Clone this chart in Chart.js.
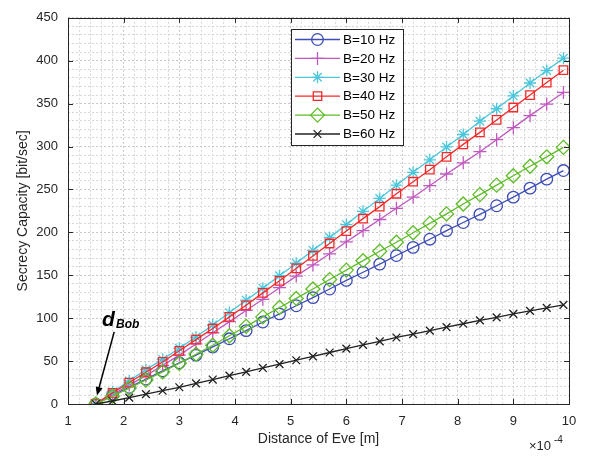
<!DOCTYPE html>
<html>
<head>
<meta charset="utf-8">
<title>Secrecy Capacity vs Distance of Eve</title>
<script src="https://cdn.jsdelivr.net/npm/chart.js@4.4.1/dist/chart.umd.min.js"></script>
<style>
    html, body { margin: 0; padding: 0; background: #fff; }
    #chart { display: block; }
</style>
</head>
<body>
<canvas id="chart" width="590" height="456"></canvas>
<script>
// distance of Eve, in units of 1e-4 m
const distances = [1.5, 1.8, 2.1, 2.4, 2.7, 3.0, 3.3, 3.6, 3.9, 4.2, 4.5, 4.8, 5.1, 5.4, 5.7,
    6.0, 6.3, 6.6, 6.9, 7.2, 7.5, 7.8, 8.1, 8.4, 8.7, 9.0, 9.3, 9.6, 9.9];

// secrecy capacity [bit/sec] for each bandwidth
const capB10 = [0, 10, 19.5, 29, 38.5, 48, 57, 66.5, 76, 85.5, 95.5, 105, 114.5, 124, 134,
    144, 153.5, 163, 173, 182.5, 192, 202, 211.5, 221, 231, 241, 251.5, 262, 272];
const capB20 = [0, 11, 22, 33, 45, 57, 70, 83, 96, 109, 122, 135.5, 149, 162, 175,
    189, 202, 215, 228, 241, 254.5, 268, 281, 294, 308, 322, 336, 349.5, 363];
const capB30 = [0, 14, 27, 40, 52, 65, 78, 92, 106.5, 121, 135, 149.5, 164, 179, 194,
    209, 224.5, 239.5, 255, 270, 284.5, 299.5, 314, 329.5, 344, 359, 374, 388.5, 403];
const capB40 = [0, 13, 25, 37, 49, 62, 75, 88, 101.5, 115, 129.5, 143.5, 158, 172.5, 187,
    201.5, 216, 230, 245, 259, 273, 288, 302.5, 316.5, 331, 345.5, 360, 374.5, 389];
const capB50 = [0, 9, 18.5, 28, 37.5, 47.5, 58, 68.5, 79.5, 90.5, 101.5, 112.5, 123, 134, 145,
    156, 167, 178, 188.5, 199.5, 210.5, 221.5, 233, 244, 255, 266, 277, 288, 299];
const capB60 = [0, 3.5, 7.5, 11.5, 15.5, 19.5, 24, 28.5, 33, 37.5, 42, 46.5, 51, 55.5, 60,
    64.5, 69, 73, 77.5, 81.5, 85.5, 89.5, 93.5, 97.5, 101, 105, 108.5, 112, 115.5];

const seriesLabels = ['B=10 Hz', 'B=20 Hz', 'B=30 Hz', 'B=40 Hz', 'B=50 Hz', 'B=60 Hz'];
const xMajorTicks = [1, 2, 3, 4, 5, 6, 7, 8, 9, 10];
const yMajorTicks = [0, 50, 100, 150, 200, 250, 300, 350, 400, 450];

const FONT = "'Liberation Sans', Arial, Helvetica, sans-serif";
const AXIS_COLOR = '#262626';
const CLEAR = 'rgba(0,0,0,0)';

const seriesStyle = [
    { color: '#3d4eb8', pointStyle: 'circle', radius: 5.8 },
    { color: '#c058c0', pointStyle: 'cross', radius: 6.5 },
    { color: '#4cc6dc', pointStyle: 'star', radius: 6 },
    { color: '#f52a2a', pointStyle: 'rect', radius: 6 },
    { color: '#5fbd28', pointStyle: 'rectRot', radius: 7 },
    { color: '#222222', pointStyle: 'crossRot', radius: 5.5 }
];

const allSeries = [capB10, capB20, capB30, capB40, capB50, capB60];

const datasets = allSeries.map((values, i) => ({
    label: seriesLabels[i],
    data: values.map((v, j) => ({ x: distances[j], y: v })),
    borderColor: seriesStyle[i].color,
    backgroundColor: CLEAR,
    borderWidth: 1.3,
    pointStyle: seriesStyle[i].pointStyle,
    pointRadius: seriesStyle[i].radius,
    pointBorderWidth: 1.3,
    pointBorderColor: seriesStyle[i].color,
    pointBackgroundColor: CLEAR,
    tension: 0,
    // later bandwidths sit on top
    order: allSeries.length - 1 - i
}));

// box, inward tick marks, legend, exponent and the d_Bob marker
const decorations = {
    id: 'decorations',
    beforeDraw(chart) {
        const ctx = chart.ctx;
        ctx.save();
        ctx.fillStyle = '#fff';
        ctx.fillRect(0, 0, chart.width, chart.height);
        ctx.restore();
    },
    afterDraw(chart) {
        const ctx = chart.ctx;
        const { left, right, top, bottom } = chart.chartArea;
        const xs = chart.scales.x;
        const ys = chart.scales.y;
        const tick = 5;

        ctx.save();
        ctx.strokeStyle = AXIS_COLOR;
        ctx.lineWidth = 1;
        ctx.strokeRect(Math.round(left) + 0.5, Math.round(top) + 0.5,
            Math.round(right - left), Math.round(bottom - top));

        ctx.beginPath();
        xMajorTicks.forEach(v => {
            const px = Math.round(xs.getPixelForValue(v)) + 0.5;
            ctx.moveTo(px, bottom); ctx.lineTo(px, bottom - tick);
            ctx.moveTo(px, top); ctx.lineTo(px, top + tick);
        });
        yMajorTicks.forEach(v => {
            const py = Math.round(ys.getPixelForValue(v)) + 0.5;
            ctx.moveTo(left, py); ctx.lineTo(left + tick, py);
            ctx.moveTo(right, py); ctx.lineTo(right - tick, py);
        });
        ctx.stroke();

        // x10^-4 exponent under the right end of the x axis
        ctx.fillStyle = AXIS_COLOR;
        ctx.textBaseline = 'alphabetic';
        ctx.textAlign = 'left';
        ctx.font = '13px ' + FONT;
        ctx.fillText('\u00d710', 529, 450);
        ctx.font = '10px ' + FONT;
        ctx.fillText('-4', 554, 443);

        // legend
        const lx = 291, ly = 29, lw = 112, lh = 116;
        ctx.fillStyle = '#fff';
        ctx.fillRect(lx, ly, lw, lh);
        ctx.strokeStyle = AXIS_COLOR;
        ctx.strokeRect(lx + 0.5, ly + 0.5, lw, lh);
        chart.data.datasets.forEach((ds, i) => {
            const rowY = ly + 10.5 + i * 18.9;
            ctx.strokeStyle = ds.borderColor;
            ctx.lineWidth = 1.3;
            ctx.beginPath();
            ctx.moveTo(lx + 4, rowY);
            ctx.lineTo(lx + 49, rowY);
            ctx.stroke();
            ctx.fillStyle = CLEAR;
            Chart.helpers.drawPoint(ctx, {
                pointStyle: ds.pointStyle,
                radius: ds.pointRadius,
                borderWidth: 1.3,
                rotation: 0
            }, lx + 26.5, rowY);
            ctx.fillStyle = '#000';
            ctx.font = '13.5px ' + FONT;
            ctx.textBaseline = 'middle';
            ctx.fillText(ds.label, lx + 52, rowY + 0.5);
        });

        // d_Bob arrow pointing at the start of the curves
        const tipX = xs.getPixelForValue(1.52), tipY = ys.getPixelForValue(10);
        const tailX = xs.getPixelForValue(1.83), tailY = ys.getPixelForValue(84);
        const ang = Math.atan2(tipY - tailY, tipX - tailX);
        const head = 9;
        ctx.strokeStyle = '#000';
        ctx.fillStyle = '#000';
        ctx.lineWidth = 1.5;
        ctx.beginPath();
        ctx.moveTo(tailX, tailY);
        ctx.lineTo(tipX - Math.cos(ang) * head * 0.8, tipY - Math.sin(ang) * head * 0.8);
        ctx.stroke();
        ctx.beginPath();
        ctx.moveTo(tipX, tipY);
        ctx.lineTo(tipX - head * Math.cos(ang - 0.4), tipY - head * Math.sin(ang - 0.4));
        ctx.lineTo(tipX - head * Math.cos(ang + 0.4), tipY - head * Math.sin(ang + 0.4));
        ctx.closePath();
        ctx.fill();

        ctx.textBaseline = 'alphabetic';
        ctx.font = 'italic bold 21px ' + FONT;
        ctx.fillText('d', 102, 326);
        ctx.font = 'italic bold 12px ' + FONT;
        ctx.fillText('Bob', 116, 328);

        ctx.restore();
    }
};

const isMajor = (v, step) => Math.abs(v / step - Math.round(v / step)) < 1e-6;

new Chart(document.getElementById('chart'), {
    type: 'line',
    data: { datasets },
    options: {
        responsive: false,
        animation: false,
        devicePixelRatio: 1,
        layout: { padding: { top: 8, right: 21, left: 0, bottom: 0 } },
        plugins: {
            legend: { display: false },
            tooltip: { enabled: false }
        },
        scales: {
            x: {
                type: 'linear',
                min: 1,
                max: 10,
                afterFit(scale) { scale.height = 52; },
                ticks: {
                    stepSize: 0.2,
                    autoSkip: false,
                    maxRotation: 0,
                    padding: 10,
                    color: AXIS_COLOR,
                    font: { family: FONT, size: 13 },
                    callback: v => (isMajor(v, 1) ? String(Math.round(v)) : '')
                },
                grid: {
                    drawTicks: false,
                    color: ctx => (isMajor(ctx.tick.value, 1) ? '#c8c8c8' : '#d8d8d8'),
                    lineWidth: 1
                },
                border: { display: false, dash: [2, 2] },
                title: {
                    display: true,
                    text: 'Distance of Eve [m]',
                    color: AXIS_COLOR,
                    font: { family: FONT, size: 14 },
                    padding: { top: 0, bottom: 8 }
                }
            },
            y: {
                type: 'linear',
                min: 0,
                max: 450,
                afterFit(scale) { scale.width = 68; },
                ticks: {
                    stepSize: 10,
                    autoSkip: false,
                    padding: 10,
                    color: AXIS_COLOR,
                    font: { family: FONT, size: 13 },
                    callback: v => (isMajor(v, 50) ? String(v) : '')
                },
                grid: {
                    drawTicks: false,
                    color: ctx => (isMajor(ctx.tick.value, 50) ? '#c8c8c8' : '#d8d8d8'),
                    lineWidth: 1
                },
                border: { display: false, dash: [2, 2] },
                title: {
                    display: true,
                    text: 'Secrecy Capacity [bit/sec]',
                    color: AXIS_COLOR,
                    font: { family: FONT, size: 14 },
                    padding: { top: 15, bottom: 0 }
                }
            }
        }
    },
    plugins: [decorations]
});
</script>
</body>
</html>
